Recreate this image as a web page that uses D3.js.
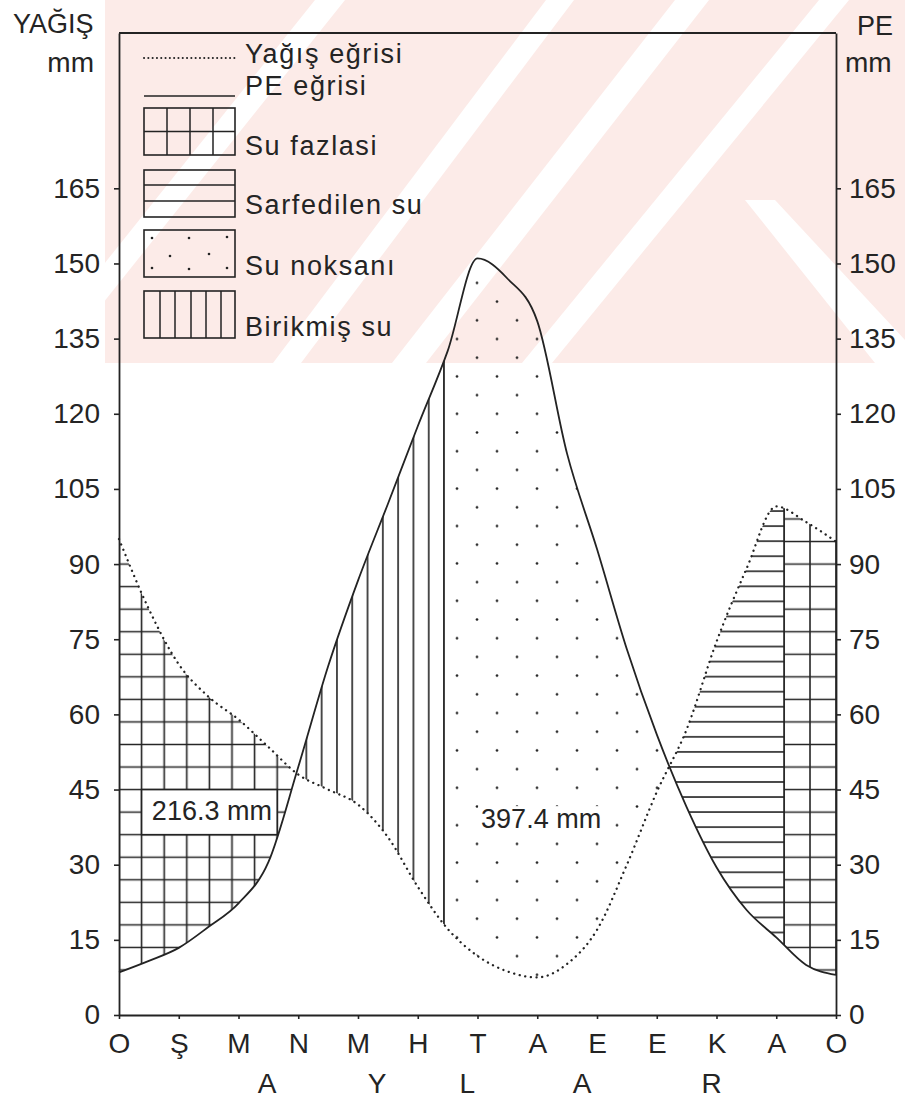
<!DOCTYPE html>
<html><head><meta charset="utf-8">
<script src="https://cdn.jsdelivr.net/npm/d3@7"></script>
<style>
body{margin:0;background:#fff}
svg{display:block}
text{font-family:"Liberation Sans",Arial,sans-serif;fill:#242424}
</style>
</head><body>
<svg id="c" width="905" height="1098"></svg>
<script>
// ---------------- data ----------------
const months = ["O","Ş","M","N","M","H","T","A","E","E","K","A","O"];
const aylar = ["A","Y","L","A","R"];
const aylarPos = [2.48, 4.32, 5.83, 7.75, 9.92];
const yTicks = [0,15,30,45,60,75,90,105,120,135,150,165];
// readings every half month (month index 0 .. 12)
const sampleMonth = [0,0.5,1,1.5,2,2.5,3,3.5,4,4.5,5,5.5,6,6.5,7,7.5,8,8.5,9,9.5,10,10.5,11,11.5,12];
const yagis = [95,81,70,63.5,59,53.5,48,45,42,35.5,25.6,17.2,11.8,8.7,7.5,10.2,17,30,44.5,57,74.5,89,101.5,98.4,94.5];
const pe    = [8.5,10.8,13.4,17.6,22.3,30.5,49.5,69.6,86.7,102,117.5,132.5,151,147,138.5,112,93,73,56,41.5,29.5,21,15.5,10,8];
const storageEnd = 5.44;     // stored water used up
const surplusStart = 11.13;  // surplus begins again
const surplusLabel = "216.3 mm";
const deficitLabel = "397.4 mm";
const legendLabels = ["Yağış eğrisi","PE eğrisi","Su fazlasi","Sarfedilen su","Su noksanı","Birikmiş su"];

// ---------------- setup ----------------
const svg = d3.select("#c");
const ink = "#232323";
const x = d3.scaleLinear().domain([0,12]).range([119,836]);
const y = d3.scaleLinear().domain([0,196]).range([1015,33]);
const pts = sampleMonth.map((m,i)=>({m, p:yagis[i], e:pe[i]}));

// watermark (decorative background)
const wm = svg.append("g");
const wmClip = svg.append("defs").append("clipPath").attr("id","wmclip");
wmClip.append("rect").attr("x",105).attr("y",0).attr("width",800).attr("height",363);
const wmG = wm.append("g").attr("clip-path","url(#wmclip)");
wmG.append("rect").attr("x",0).attr("y",0).attr("width",905).attr("height",363).attr("fill","#fcebe8");
const stripe = (bx,tx,w)=>[[bx-w/2,363],[tx-w/2,0],[tx+w/2,0],[bx+w/2,363]];
[stripe(287,560,28),stripe(409,692,34),stripe(537,834,30),stripe(40,330,30)].forEach(s=>{
  wmG.append("polygon").attr("points",s.map(p=>p.join(",")).join(" ")).attr("fill","#fff");
});
wmG.append("polygon").attr("points","745,200 775,200 905,340 905,363 875,363").attr("fill","#fff");

const defs = svg.append("defs");
function pattern(id, ox, oy, w, h){
  return defs.append("pattern").attr("id",id).attr("patternUnits","userSpaceOnUse")
    .attr("x",ox).attr("y",oy).attr("width",w).attr("height",h);
}
const hw = 1.6;
// grid (su fazlasi)
const gW = 22.6, gH = 22.55, gY0 = y(90);
const pg = pattern("gridL", x(0)-gW/2, gY0-gH/2, gW, gH);
pg.append("path").attr("d",`M${gW/2},0V${gH}M0,${gH/2}H${gW}`).attr("stroke",ink).attr("stroke-width",hw);
const gWR = (x(12)-x(surplusStart))/2;
const pgr = pattern("gridR", x(surplusStart)-gWR/2, gY0-gH/2, gWR, gH);
pgr.append("path").attr("d",`M${gWR/2},0V${gH}M0,${gH/2}H${gWR}`).attr("stroke",ink).attr("stroke-width",hw);
// horizontal (sarfedilen su)
const hH = 15.05, hY0 = y(40.5);
pattern("horiz", 0, hY0-hH/2, 20, hH).append("path").attr("d",`M0,${hH/2}H20`).attr("stroke",ink).attr("stroke-width",hw);
// vertical (birikmis su)
const vW = 15.3, vX0 = x(storageEnd);
pattern("vert", vX0-vW/2, 0, vW, 20).append("path").attr("d",`M${vW/2},0V20`).attr("stroke",ink).attr("stroke-width",hw);
// dots (su noksani)
const dW = 40, dH = 37.4;
const pd = pattern("dots", 457-dW/4, 713-dH/4, dW, dH);
pd.append("circle").attr("cx",dW/4).attr("cy",dH/4).attr("r",1.35).attr("fill",ink);
pd.append("circle").attr("cx",dW*3/4).attr("cy",dH*3/4).attr("r",1.35).attr("fill",ink);

// area between curves
const between = d3.area().x(d=>x(d.m)).y0(d=>y(d.p)).y1(d=>y(d.e)).curve(d3.curveMonotoneX);
defs.append("clipPath").attr("id","between").append("path").attr("d",between(pts));

// crossings
const diff = pts.map(d=>d.e-d.p);
const cross = [];
for(let i=1;i<pts.length;i++){
  if((diff[i-1]<0) !== (diff[i]<0)){
    const t = diff[i-1]/(diff[i-1]-diff[i]);
    cross.push(pts[i-1].m + t*(pts[i].m-pts[i-1].m));
  }
}
const c1 = cross[0], c2 = cross[1];
const regions = [
  {a:-1, b:c1, fill:"gridL"},
  {a:c1, b:storageEnd, fill:"vert"},
  {a:storageEnd, b:c2, fill:"dots"},
  {a:c2, b:surplusStart, fill:"horiz"},
  {a:surplusStart, b:13, fill:"gridR"}
];
regions.forEach((r,i)=>{
  defs.append("clipPath").attr("id","xr"+i).append("rect")
    .attr("x",x(r.a)).attr("y",0).attr("width",x(r.b)-x(r.a)).attr("height",1098);
  svg.append("g").attr("clip-path",`url(#xr${i})`)
    .append("rect").attr("x",x(0)).attr("y",y(196)).attr("width",x(12)-x(0)).attr("height",y(0)-y(196))
    .attr("fill",`url(#${r.fill})`).attr("clip-path","url(#between)");
});
// boundary lines between regions
const bl = svg.append("g").attr("clip-path","url(#between)");
[storageEnd, surplusStart].forEach(m=>{
  bl.append("line").attr("x1",x(m)).attr("x2",x(m)).attr("y1",y(0)).attr("y2",y(196))
    .attr("stroke",ink).attr("stroke-width",hw);
});

// curves
const lineP = d3.line().x(d=>x(d.m)).y(d=>y(d.p)).curve(d3.curveMonotoneX);
const lineE = d3.line().x(d=>x(d.m)).y(d=>y(d.e)).curve(d3.curveMonotoneX);
svg.append("path").attr("d",lineE(pts)).attr("fill","none").attr("stroke",ink).attr("stroke-width",1.8);
svg.append("path").attr("d",lineP(pts)).attr("fill","none").attr("stroke",ink).attr("stroke-width",2.3)
  .attr("stroke-dasharray","0.1 5.6").attr("stroke-linecap","round");

// labels in regions
const fs = 27;
const t1 = svg.append("text").attr("x",x(0.55)).attr("y",y(38.9)).attr("font-size",fs).text(surplusLabel);
let bb = t1.node().getBBox();
const gx0 = x(0);
const rx0 = gx0 + Math.floor((bb.x-3-gx0)/gW)*gW, rx1 = gx0 + Math.ceil((bb.x+bb.width+3-gx0)/gW)*gW;
const ry0 = gY0 + Math.floor((bb.y-gY0)/gH)*gH, ry1 = gY0 + Math.ceil((bb.y+bb.height-gY0)/gH)*gH;
svg.insert("rect","text").attr("x",rx0).attr("y",ry0).attr("width",rx1-rx0).attr("height",ry1-ry0)
  .attr("fill","#fff").attr("stroke",ink).attr("stroke-width",hw);
t1.raise();
const t2 = svg.append("text").attr("x",x(6.06)).attr("y",y(37.3)).attr("font-size",fs).text(deficitLabel);
bb = t2.node().getBBox();
svg.insert("rect","text").attr("x",bb.x-3).attr("y",bb.y+2).attr("width",bb.width+6).attr("height",bb.height-4).attr("fill","#fff");
t2.raise();

// axes
const axFont = 28;
const gl = svg.append("g").attr("transform",`translate(${x(0)},0)`)
  .call(d3.axisLeft(y).tickValues(yTicks).tickSize(5).tickSizeOuter(0).tickPadding(14));
const gr = svg.append("g").attr("transform",`translate(${x(12)},0)`)
  .call(d3.axisRight(y).tickValues(yTicks).tickSize(5).tickSizeOuter(0).tickPadding(8));
const gb = svg.append("g").attr("transform",`translate(0,${y(0)})`)
  .call(d3.axisBottom(x).tickValues(d3.range(13)).tickFormat(i=>months[i]).tickSize(4).tickSizeOuter(0).tickPadding(14));
[gl,gr,gb].forEach(g=>{
  g.attr("font-family",null).attr("font-size",null);
  g.selectAll("text").attr("font-size",axFont).attr("fill","#242424");
  g.selectAll("path.domain").attr("stroke",ink).attr("stroke-width",1.8);
  g.selectAll("line").attr("stroke",ink).attr("stroke-width",1.6);
});
svg.append("line").attr("x1",x(0)).attr("x2",x(12)).attr("y1",y(196)).attr("y2",y(196))
  .attr("stroke",ink).attr("stroke-width",1.8);

// AYLAR
svg.append("g").selectAll("text").data(aylar).join("text")
  .attr("x",(d,i)=>x(aylarPos[i])).attr("y",1093).attr("text-anchor","middle")
  .attr("font-size",axFont).text(d=>d);

// axis titles
svg.append("text").attr("x",13).attr("y",33).attr("font-size",27).text("YAĞIŞ");
svg.append("text").attr("x",94).attr("y",72).attr("text-anchor","end").attr("font-size",28).text("mm");
svg.append("text").attr("x",857).attr("y",35).attr("font-size",27).text("PE");
svg.append("text").attr("x",845).attr("y",72).attr("font-size",28).text("mm");

// legend
const lg = svg.append("g");
const lx0 = 144, lw = 91, lh = 47, tx = 245;
lg.append("line").attr("x1",lx0).attr("x2",lx0+lw).attr("y1",58).attr("y2",58)
  .attr("stroke",ink).attr("stroke-width",2).attr("stroke-dasharray","0.1 4.2").attr("stroke-linecap","round");
lg.append("line").attr("x1",lx0).attr("x2",lx0+lw).attr("y1",96).attr("y2",96)
  .attr("stroke",ink).attr("stroke-width",1.6);
const boxTops = [108,170,230,291];
boxTops.forEach((t,k)=>{
  const b = lg.append("g").attr("transform",`translate(${lx0},${t})`);
  b.append("rect").attr("width",lw).attr("height",lh).attr("fill","none").attr("stroke",ink).attr("stroke-width",1.6);
  let d = "";
  if(k===0){ [23,46,69].forEach(v=>d+=`M${v},0V${lh}`); d+=`M0,${lh/2}H${lw}`; }
  if(k===1){ [15,31].forEach(v=>d+=`M0,${v}H${lw}`); }
  if(k===3){ [16,31,47,62,77].forEach(v=>d+=`M${v},0V${lh}`); }
  if(d) b.append("path").attr("d",d).attr("stroke",ink).attr("stroke-width",1.5);
  if(k===2){
    [[8,8],[45,8],[83,7],[26,26],[65,24],[8,38],[45,39],[83,38]].forEach(p=>
      b.append("circle").attr("cx",p[0]).attr("cy",p[1]).attr("r",1.3).attr("fill",ink));
  }
});
const textBase = [63,95,155,214,275,336];
lg.selectAll("text").data(legendLabels).join("text")
  .attr("x",tx).attr("y",(d,i)=>textBase[i]).attr("font-size",27).attr("letter-spacing",1.6).text(d=>d);
</script>
</body></html>
